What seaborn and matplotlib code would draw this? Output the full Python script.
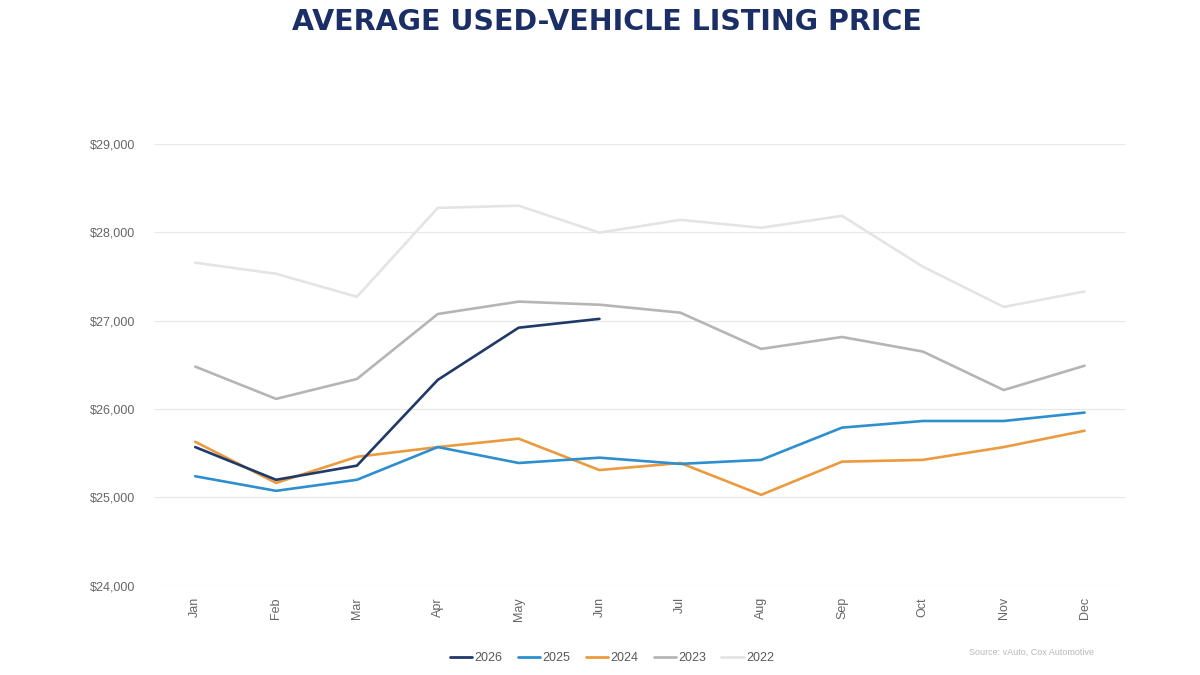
import pandas as pd
import numpy as np
import matplotlib.pyplot as plt
import seaborn as sns

# ------------------------------------------------------------------
# data
# ------------------------------------------------------------------
months = ['Jan', 'Feb', 'Mar', 'Apr', 'May', 'Jun', 'Jul', 'Aug', 'Sep', 'Oct', 'Nov', 'Dec']
years = ['2026', '2025', '2024', '2023', '2022']

price_2026 = [25570, 25200, 25360, 26330, 26920, 27020]
price_2025 = [25240, 25075, 25200, 25570, 25390, 25450, 25380, 25425, 25790, 25865, 25865, 25960]
price_2024 = [25630, 25165, 25460, 25570, 25665, 25310, 25390, 25030, 25405, 25425, 25570, 25755]
price_2023 = [26480, 26115, 26340, 27075, 27215, 27180, 27090, 26680, 26815, 26650, 26215, 26490]
price_2022 = [27655, 27530, 27270, 28275, 28300, 27995, 28140, 28050, 28185, 27610, 27155, 27330]

yticks = [24000, 25000, 26000, 27000, 28000, 29000]
colors = {'2026': '#1f3a68', '2025': '#2e8fcf', '2024': '#ec9a3f', '2023': '#b5b5b5', '2022': '#e4e4e4'}

series = {'2026': price_2026, '2025': price_2025, '2024': price_2024, '2023': price_2023, '2022': price_2022}
rows = []
for y in years:
    for m, v in zip(months, series[y]):
        rows.append({'month': m, 'year': y, 'price': v})
df = pd.DataFrame(rows)
df['month'] = pd.Categorical(df['month'], categories=months, ordered=True)

# ------------------------------------------------------------------
# plot
# ------------------------------------------------------------------
sns.set_style('white')
plt.rcParams['font.family'] = ['Liberation Sans', 'DejaVu Sans']

fig = plt.figure(figsize=(12, 6.75), dpi=100)
ax = fig.add_axes([0.129, 0.132, 0.8085, 0.655])

# older years first so 2026 sits on top
sns.lineplot(data=df, x='month', y='price', hue='year', hue_order=years[::-1],
             palette=colors, linewidth=1.9, ax=ax, legend=False, sort=False)

ax.set_xlim(-0.5, 11.5)
ax.set_ylim(24000, 29000)
ax.set_yticks(yticks)
ax.set_yticklabels(['${:,}'.format(t) for t in yticks], fontsize=9, color='#666666')
ax.set_xticks(range(len(months)))
ax.set_xticklabels(months, rotation=90, fontsize=9, color='#666666')
ax.tick_params(axis='y', length=0, pad=14)
ax.tick_params(axis='x', length=0, pad=8)
ax.grid(axis='y', color='#e8e8e8', linewidth=0.9)
ax.set_axisbelow(True)
for s in ax.spines.values():
    s.set_visible(False)
ax.set_xlabel('')
ax.set_ylabel('')

# legend 2026 -> 2022
handles = [plt.Line2D([0], [0], color=colors[y], linewidth=2) for y in years]
fig.legend(handles, years, loc='center', bbox_to_anchor=(0.51, 0.025), ncol=5, frameon=False,
           fontsize=9, handlelength=1.8, handletextpad=0.2, columnspacing=1.2, labelcolor='#595959')

fig.text(0.506, 0.968, 'AVERAGE USED-VEHICLE LISTING PRICE', ha='center', va='center',
         fontsize=20.5, fontweight='bold', color='#1b2f66', family=['DejaVu Sans'])
fig.text(0.912, 0.034, 'Source: vAuto, Cox Automotive', ha='right', va='center',
         fontsize=6.5, color='#b8b8b8')

fig.savefig('out.png', dpi=100)
